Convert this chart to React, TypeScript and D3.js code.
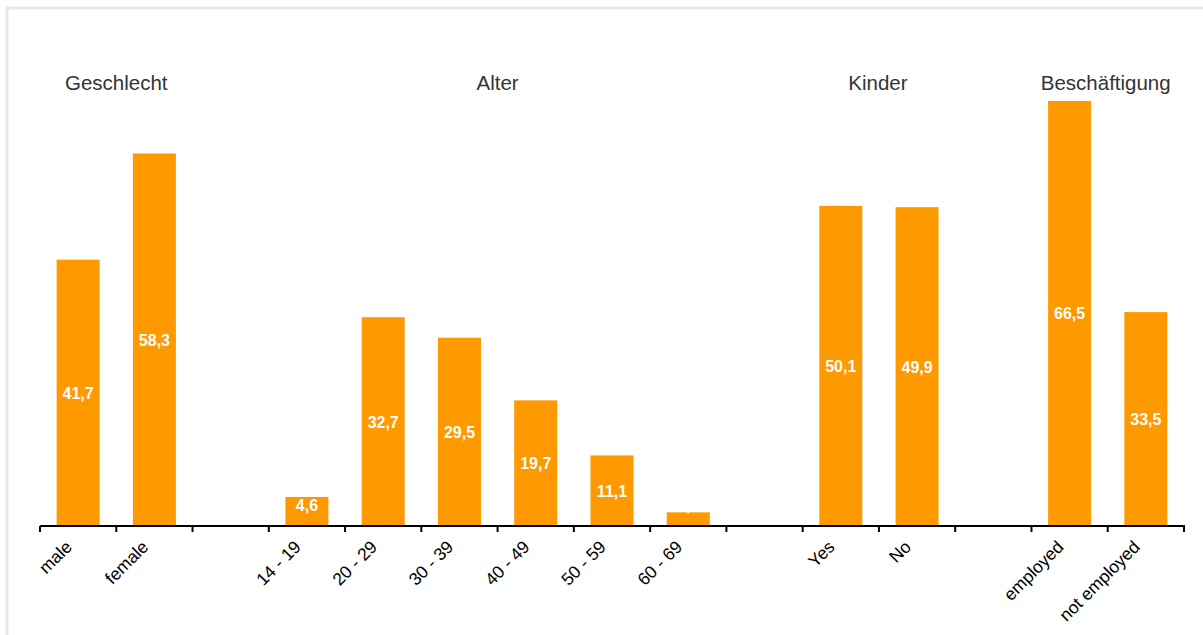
import React from "react";
import * as d3 from "d3";

const categories = [
  "male", "female", "", "14 - 19", "20 - 29", "30 - 39", "40 - 49", "50 - 59", "60 - 69",
  "", "Yes", "No", "", "employed", "not employed",
];
const values: (number | null)[] = [
  41.7, 58.3, null, 4.6, 32.7, 29.5, 19.7, 11.1, 2.2, null, 50.1, 49.9, null, 66.5, 33.5,
];
const groupTitles = ["Geschlecht", "Alter", "Kinder", "Beschäftigung"];
const groupStart = [0, 3, 10, 13];
const groupEnd = [1, 8, 11, 14];

const W = 1203;
const H = 635;
const ORANGE = "#ff9900";
const FONT = "'Liberation Sans', Arial, Helvetica, sans-serif";

export default function App() {
  const slots = categories.map((_, i) => String(i));
  const x = d3
    .scaleBand<string>()
    .domain(slots)
    .range([40, 1184])
    .paddingInner(0.436)
    .paddingOuter(0.218);
  const y = d3.scaleLinear().domain([0, 70]).range([526.4, 526.4 - 70 * 6.397]);
  const y0 = y(0);
  const step = x.step();
  const tickXs = d3.range(categories.length + 1).map((i) => 40 + i * step);
  const titleDx = [0, 0, -1, -2];

  return (
    <svg
      width={W}
      height={H}
      style={{ position: "absolute", left: 0, top: 0, background: "#fff" }}
      fontFamily={FONT}
    >
      <rect x={7} y={8} width={W + 20} height={H + 20} fill="none" stroke="#e8e8e8" strokeWidth={3} />
      {values.map((v, i) =>
        v == null ? null : (
          <g key={i}>
            <rect
              x={x(String(i))!}
              y={y(v)}
              width={x.bandwidth()}
              height={y0 - y(v)}
              fill={ORANGE}
            />
            <text
              x={x(String(i))! + x.bandwidth() / 2}
              y={Math.min((y(v) + y0) / 2, y0 - 21)}
              dy="0.36em"
              textAnchor="middle"
              fill="#fff"
              fontWeight="bold"
              fontSize={16}
            >
              {d3.format(".1f")(v).replace(".", ",")}
            </text>
          </g>
        )
      )}
      <line x1={40} x2={tickXs[tickXs.length - 1] + 1} y1={526} y2={526} stroke="#000" strokeWidth={2} />
      {tickXs.map((tx, i) => (
        <line key={i} x1={tx} x2={tx} y1={526} y2={532} stroke="#000" strokeWidth={2} />
      ))}
      {categories.map((c, i) =>
        c ? (
          <text
            key={i}
            transform={`translate(${x(String(i))! + x.bandwidth() / 2 - 5},548) rotate(-45)`}
            textAnchor="end"
            fontSize={17.5}
            fill="#000"
          >
            {c}
          </text>
        ) : null
      )}
      {groupTitles.map((t, g) => {
        const cx = (x(String(groupStart[g]))! + x(String(groupEnd[g]))! + x.bandwidth()) / 2;
        return (
          <text key={t} x={cx + titleDx[g]} y={90} textAnchor="middle" fontSize={20.5} fill="#333">
            {t}
          </text>
        );
      })}
    </svg>
  );
}
